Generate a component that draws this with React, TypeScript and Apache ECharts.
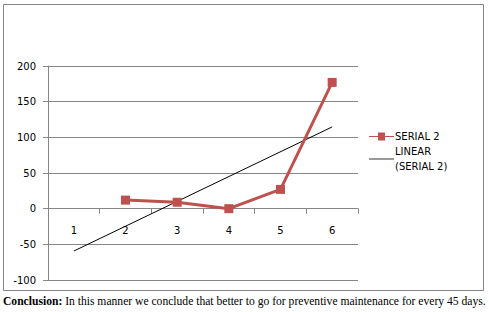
import React, { useEffect, useRef } from "react";
import * as echarts from "echarts";

const categories = ["1", "2", "3", "4", "5", "6"];
const serial2 = [null, 12, 9, 0, 27, 177];
const linearTrend = [-59.4, null, null, null, null, 114.6];
const yTicks = { min: -100, max: 200, interval: 50 };
const conclusionLabel = "Conclusion:";
const conclusionText = " In this manner we conclude that better to go for preventive maintenance for every 45 days.";

export default function App() {
  const ref = useRef<HTMLDivElement>(null);
  useEffect(() => {
    document.body.style.margin = "0";
    const chart = echarts.init(ref.current!, null, { renderer: "svg" });
    const font = "DejaVu Sans";
    chart.setOption({
      animation: false,
      backgroundColor: "#ffffff",
      grid: { left: 48, right: 131, top: 66, bottom: 32, containLabel: false },
      legend: {
        orient: "vertical",
        left: 369,
        top: 129,
        padding: 0,
        itemWidth: 25,
        itemHeight: 8,
        itemGap: 0,
        textStyle: { fontFamily: font, fontSize: 10, lineHeight: 15, color: "#000", padding: [0, 0, 0, -4] },
        data: [
          { name: "SERIAL 2", icon: "path://M0,3.5L9,3.5L9,0L16,0L16,3.5L25,3.5L25,4.5L16,4.5L16,8L9,8L9,4.5L0,4.5Z" },
          { name: "LINEAR\n(SERIAL 2)", icon: "path://M0,3.6L25,3.6L25,4.4L0,4.4Z" },
        ],
      },
      xAxis: {
        type: "category",
        data: categories,
        boundaryGap: true,
        axisLine: { onZero: true, lineStyle: { color: "#868686", width: 1 } },
        axisTick: { show: true, length: 5, alignWithLabel: false, lineStyle: { color: "#868686" } },
        axisLabel: { fontFamily: font, fontSize: 10, color: "#000", margin: -55 },
        splitLine: { show: false },
      },
      yAxis: {
        type: "value",
        min: yTicks.min,
        max: yTicks.max,
        interval: yTicks.interval,
        axisLine: { show: true, lineStyle: { color: "#868686", width: 1 } },
        axisTick: { show: true, length: 5, lineStyle: { color: "#868686" } },
        axisLabel: { fontFamily: font, fontSize: 10, color: "#000", margin: 12 },
        splitLine: { show: true, lineStyle: { color: "#868686", width: 1 } },
      },
      series: [
        {
          name: "SERIAL 2",
          type: "line",
          data: serial2,
          color: "#C0504D",
          lineStyle: { color: "#C0504D", width: 3 },
          itemStyle: { color: "#C0504D" },
          symbol: "rect",
          symbolSize: 9,
          showSymbol: true,
          z: 3,
        },
        {
          name: "LINEAR\n(SERIAL 2)",
          type: "line",
          data: linearTrend,
          connectNulls: true,
          color: "#000",
          lineStyle: { color: "#000", width: 1 },
          itemStyle: { color: "#000" },
          symbol: "none",
          z: 2,
        },
      ],
      graphic: [
        {
          type: "rect",
          shape: { x: 3.5, y: 4.5, width: 480, height: 286 },
          style: { fill: "none", stroke: "#868686", lineWidth: 1 },
          silent: true,
        },
        {
          type: "text",
          left: 3,
          top: 295,
          style: {
            text: "{b|" + conclusionLabel + "}" + conclusionText,
            fontFamily: "Liberation Serif",
            fontSize: 11.6,
            fill: "#000",
            rich: {
              b: { fontFamily: "Liberation Serif", fontSize: 11.6, fontWeight: "bold", fill: "#000" },
            },
          },
        },
      ],
    });
    return () => chart.dispose();
  }, []);
  return <div ref={ref} style={{ width: 489, height: 312 }} />;
}
